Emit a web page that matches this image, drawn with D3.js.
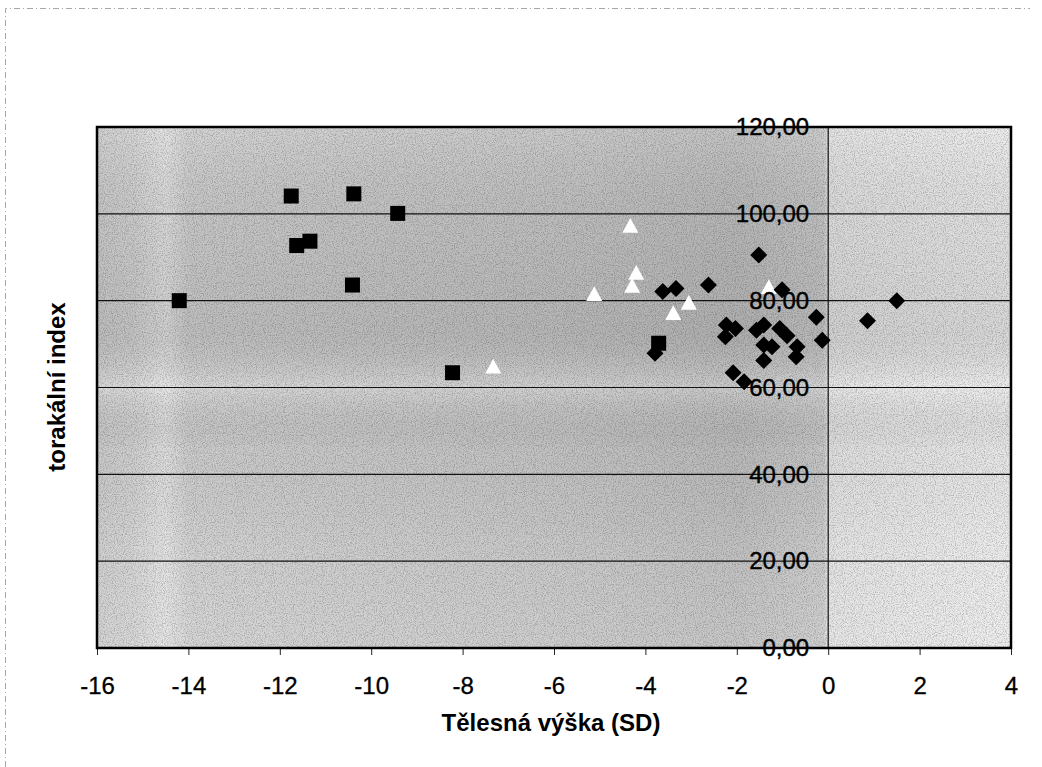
<!DOCTYPE html>
<html>
<head>
<meta charset="utf-8">
<script src="https://cdn.jsdelivr.net/npm/d3@7"></script>
<style>
  body { margin: 0; background: #fff; }
  svg { display: block; font-family: "Liberation Sans", Arial, sans-serif; }
</style>
</head>
<body>
<svg id="chart" width="1042" height="767"></svg>
<script>
// values: x = Tělesná výška (SD), y = torakální index
const triangleX = [-7.33, -5.12, -4.33, -4.2, -4.29, -3.39, -3.05, -1.3];
const triangleY = [64.8, 81.5, 97.2, 86.4, 83.4, 77.1, 79.5, 83.1];

const squareX = [-14.2, -11.75, -11.63, -11.34, -10.38, -10.41, -9.42, -8.22, -3.71];
const squareY = [80.0, 104.1, 92.7, 93.7, 104.6, 83.6, 100.1, 63.4, 70.2];

const diamondX = [-3.79, -3.62, -3.33, -2.62, -2.23, -2.03, -2.25, -2.08, -1.84, -1.52, -1.57, -1.41,
  -1.41, -1.23, -1.41, -1.06, -1.01, -0.9, -0.68, -0.7, -0.26, -0.13, 0.86, 1.5];
const diamondY = [67.9, 82.1, 82.8, 83.6, 74.4, 73.6, 71.7, 63.4, 61.3, 90.5, 73.2, 74.4,
  69.8, 69.4, 66.2, 73.6, 82.5, 71.9, 69.4, 67.1, 76.2, 70.9, 75.4, 80.0];

const xTicks = [-16, -14, -12, -10, -8, -6, -4, -2, 0, 2, 4];
const yTicks = [0, 20, 40, 60, 80, 100, 120];

const svg = d3.select("#chart");
const pLeft = 97, pRight = 1011, pTop = 127, pBottom = 648;

const x = d3.scaleLinear().domain([-16, 4]).range([pLeft, pRight]);
const y = d3.scaleLinear().domain([0, 120]).range([pBottom, pTop]);

const zip = (xs, ys) => xs.map((v, i) => [v, ys[i]]);

// scanned paper look: gradients + noise
const defs = svg.append("defs");
const gh = defs.append("linearGradient").attr("id", "bgH");
[[0, "#cdcdcd"], [0.04, "#d2d2d2"], [0.075, "#e0e0e0"], [0.1, "#cfcfcf"], [0.3, "#cacaca"],
 [0.5, "#c6c6c6"], [0.7, "#bebebe"], [0.795, "#c8c8c8"], [0.8, "#e2e2e2"], [1, "#ebebeb"]]
  .forEach(([o, c]) => gh.append("stop").attr("offset", o).attr("stop-color", c));

const gv = defs.append("linearGradient").attr("id", "bgV")
  .attr("x1", 0).attr("y1", 0).attr("x2", 0).attr("y2", 1);
[[0, "#fff", 0.1], [0.2, "#000", 0.05], [0.38, "#000", 0.08], [0.5, "#fff", 0.2],
 [0.62, "#000", 0.02], [0.8, "#fff", 0.05], [1, "#fff", 0.15]]
  .forEach(([o, c, a]) => gv.append("stop").attr("offset", o)
    .attr("stop-color", c).attr("stop-opacity", a));

const noise = defs.append("filter").attr("id", "grain")
  .attr("x", 0).attr("y", 0).attr("width", 1).attr("height", 1);
noise.append("feTurbulence").attr("type", "fractalNoise")
  .attr("baseFrequency", 0.9).attr("numOctaves", 2).attr("seed", 4);
noise.append("feColorMatrix").attr("type", "matrix")
  .attr("values", "0 0 0 0 0  0 0 0 0 0  0 0 0 0 0  0 0 0 -3 1.7");

// outer chart frame (dashed, faint)
svg.append("path")
  .attr("d", "M5.5,767 V8.5 H1030")
  .attr("fill", "none").attr("stroke", "#a8a8a8").attr("stroke-dasharray", "6,3,1,3");

const plot = svg.append("g");
plot.append("rect").attr("x", pLeft).attr("y", pTop)
  .attr("width", pRight - pLeft).attr("height", pBottom - pTop).attr("fill", "url(#bgH)");
plot.append("rect").attr("x", pLeft).attr("y", pTop)
  .attr("width", pRight - pLeft).attr("height", pBottom - pTop).attr("fill", "url(#bgV)");
plot.append("rect").attr("x", pLeft).attr("y", pTop)
  .attr("width", pRight - pLeft).attr("height", pBottom - pTop)
  .attr("fill", "#000").attr("opacity", 0.2).attr("filter", "url(#grain)");

// gridlines
plot.selectAll("line.grid").data(yTicks.slice(1, -1)).join("line")
  .attr("x1", pLeft).attr("x2", pRight)
  .attr("y1", d => y(d)).attr("y2", d => y(d))
  .attr("stroke", "#111").attr("stroke-width", 1.2);

// x axis
const xAxis = svg.append("g").attr("transform", `translate(0,${pBottom})`)
  .call(d3.axisBottom(x).tickValues(xTicks).tickSize(7).tickPadding(22).tickFormat(d3.format("d")));
xAxis.select(".domain").remove();
xAxis.selectAll("line").attr("stroke", "#222");
xAxis.selectAll("text").attr("font-size", 24).attr("fill", "#000")
  .attr("stroke", "#000").attr("stroke-width", 0.3)
  .text(d => (d < 0 ? "-" : "") + Math.abs(d));

// y axis line crossing at x = 0
svg.append("line").attr("x1", x(0)).attr("x2", x(0)).attr("y1", pTop).attr("y2", pBottom)
  .attr("stroke", "#111").attr("stroke-width", 1.2);

// markers
const triSize = 8;
svg.append("g").selectAll("path").data(zip(triangleX, triangleY)).join("path")
  .attr("d", d => {
    const cx = x(d[0]), cy = y(d[1]);
    return `M${cx},${cy - triSize} L${cx + triSize},${cy + triSize * 0.85} L${cx - triSize},${cy + triSize * 0.85}Z`;
  })
  .attr("fill", "#fff");

svg.append("g").selectAll("rect").data(zip(squareX, squareY)).join("rect")
  .attr("x", d => x(d[0]) - 7.5).attr("y", d => y(d[1]) - 7.5)
  .attr("width", 15).attr("height", 15).attr("fill", "#000");

svg.append("g").selectAll("path").data(zip(diamondX, diamondY)).join("path")
  .attr("d", d => {
    const cx = x(d[0]), cy = y(d[1]), r = 8.5;
    return `M${cx},${cy - r} L${cx + r},${cy} L${cx},${cy + r} L${cx - r},${cy}Z`;
  })
  .attr("fill", "#000");

// y tick labels sit on top of the points, like in the original
const yAxis = svg.append("g").attr("transform", `translate(${x(0)},0)`)
  .call(d3.axisLeft(y).tickValues(yTicks).tickSize(0).tickPadding(19)
    .tickFormat(d => d3.format(".2f")(d).replace(".", ",")));
yAxis.select(".domain").remove();
yAxis.selectAll("text").attr("font-size", 24).attr("fill", "#000")
  .attr("stroke", "#000").attr("stroke-width", 0.4);

// plot border
svg.append("rect").attr("x", pLeft).attr("y", pTop)
  .attr("width", pRight - pLeft).attr("height", pBottom - pTop)
  .attr("fill", "none").attr("stroke", "#000").attr("stroke-width", 2.5);

// axis titles
svg.append("text").attr("x", 551).attr("y", 731).attr("text-anchor", "middle")
  .attr("font-size", 24).attr("font-weight", "bold").text("Tělesná výška (SD)");
svg.append("text").attr("transform", "translate(65,387) rotate(-90)")
  .attr("text-anchor", "middle").attr("font-size", 24).attr("font-weight", "bold")
  .text("torakální index");
</script>
</body>
</html>
